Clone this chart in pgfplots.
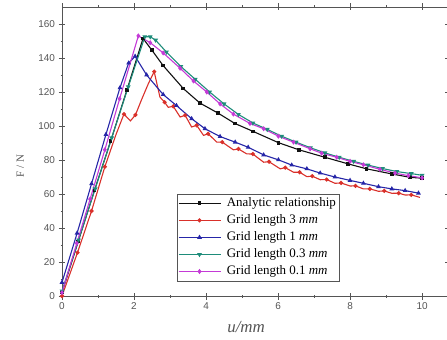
\documentclass[border=0pt]{standalone}
\usepackage{fontspec}
\setmainfont{Liberation Serif}
\setsansfont{Liberation Sans}
\usepackage{pgfplots}
\pgfplotsset{compat=1.18}
\definecolor{cblack}{HTML}{111111}
\definecolor{cred}{HTML}{D9302A}
\definecolor{cblue}{HTML}{2626A8}
\definecolor{cgreen}{HTML}{1E8C7A}
\definecolor{cmag}{HTML}{C43AD6}
\definecolor{axgray}{HTML}{555555}
\begin{document}
\begin{tikzpicture}
\begin{axis}[
  at={(0,0)}, anchor=south west,
  scale only axis, width=386bp, height=289bp,
  xmin=0, xmax=10.72, ymin=0, ymax=170,
  xtick={0,2,...,10}, ytick={0,20,...,160},
  minor xtick={1,3,...,9}, minor ytick={10,30,...,150},
  tick align=center, major tick length=7bp, minor tick length=3bp,
  axis line style={axgray, line width=0.8bp},
  every tick/.style={axgray, line width=0.7bp},
  /pgf/number format/assume math mode=true,
  ticklabel style={font=\sffamily\fontsize{10}{12}\selectfont, text=axgray},
  ylabel={F / N},
  ylabel style={at={(axis description cs:-0.108,0.45)}, anchor=center, font=\fontsize{11}{13}\selectfont, text=axgray},
  xlabel={\textit{u/mm}},
  xlabel style={at={(axis description cs:0.477,-0.107)}, anchor=center, font=\fontsize{17}{19}\selectfont, text=axgray},
  legend style={at={(axis cs:3.19,60.2)}, anchor=north west, draw=axgray, line width=0.6bp,
    font=\fontsize{13}{15.5}\selectfont, inner sep=0.8pt,
    nodes={inner sep=2.8pt, text depth=0.25em},
    /tikz/every odd column/.append style={column sep=3bp}},
  legend cell align=left,
  legend image code/.code={\draw[mark repeat=2,mark phase=2,#1] plot coordinates {(0bp,0bp) (21bp,0bp) (42bp,0bp)};},
  every axis plot/.append style={line width=1.1bp, mark size=1.3bp},
]
\addplot[cblack, mark=square*] coordinates {
(0,2) (0.45,32) (0.9,62) (1.35,91) (1.8,121) (2.25,151.5) (2.5,144.5) (2.81,135.5) (3.37,122) (3.83,113.5) (4.34,107.5) (4.8,101.5) (5.31,96.8) (6.01,90.2) (6.58,86) (7.3,81.6) (7.95,77.7) (8.46,74.8) (9.16,71.8) (9.67,69.8) (10,69.3)};
\addlegendentry{Analytic relationship}
\addplot[cred, mark=*, mark size=1.5bp, mark indices={1,2,3,4,6,8,11,13,15,17,19,21,23,25,27,29,31,33,35,37,39,41,43,45,47,49,51},
  legend image code/.code={\draw[cred, line width=1.1bp] (0bp,0bp) -- (42bp,0bp); \fill[cred] (21bp,0bp) circle (1.5bp);}] coordinates {
(0,0) (0.43,25.5) (0.82,50) (1.19,76) (1.5,95) (1.72,107) (1.9,103) (2.04,106.5) (2.2,115) (2.4,125) (2.56,132) (2.72,117) (2.85,114) (2.95,111) (3.09,111.6) (3.28,105.3) (3.42,106.3) (3.6,99.4) (3.74,100.4) (3.93,94.5) (4.06,95.4) (4.3,90.5) (4.45,90.5) (4.76,86) (4.9,86.5) (5.13,83.6) (5.3,83.5) (5.6,78.7) (5.75,79) (6.06,74.8) (6.2,75.5) (6.43,72.8) (6.6,72.8) (6.8,70.2) (6.95,70.5) (7.17,68.4) (7.35,68.5) (7.58,66.3) (7.75,66.5) (8,64.7) (8.15,64.8) (8.37,63) (8.55,63) (8.79,61.6) (8.95,61.8) (9.16,60.4) (9.35,60.5) (9.53,59.4) (9.7,59.5) (9.94,58)};
\addlegendentry{Grid length 3 \textit{mm}}
\addplot[cblue, mark=triangle*, mark size=1.7bp] coordinates {
(0,8) (0.42,37) (0.82,66) (1.22,95) (1.61,122.5) (1.85,137) (2.03,141) (2.35,130) (2.81,118.5) (3.18,112) (3.6,104.3) (3.97,98.4) (4.39,93.8) (4.81,90.5) (5.17,87.5) (5.6,83) (6.01,80.1) (6.38,77) (6.8,74.8) (7.17,72.3) (7.58,70) (8,68) (8.37,66.3) (8.79,64.3) (9.16,63) (9.53,62) (9.9,60.5)};
\addlegendentry{Grid length 1 \textit{mm}}
\addplot[cgreen, mark=triangle*, mark size=1.7bp, mark options={rotate=180}] coordinates {
(0,3) (0.46,33) (0.92,63) (1.38,93) (1.84,123) (2.3,152.5) (2.45,152.5) (2.6,150.5) (2.9,143.5) (3.3,135) (3.7,127.5) (4.1,120) (4.5,113) (4.9,106.8) (5.3,101.8) (5.7,98) (6.1,94) (6.5,90.5) (6.9,87.2) (7.3,84.2) (7.7,81.6) (8.1,79.2) (8.5,77) (8.9,75) (9.3,73.2) (9.7,72) (10,71)};
\addlegendentry{Grid length 0.3 \textit{mm}}
\addplot[cmag, mark=diamond*, mark size=1.7bp] coordinates {
(0,2) (0.41,31) (0.78,57) (1.19,86) (1.6,116) (2.12,153) (2.45,149) (2.81,143) (3.28,134) (3.65,126.5) (4.02,120) (4.39,113) (4.76,107) (5.22,101.5) (5.6,98.4) (6.01,94) (6.43,90.5) (6.89,86.6) (7.21,84) (7.63,81.6) (8.0,79.2) (8.37,77.2) (8.83,74.5) (9.25,72.3) (9.62,70.8) (10,69.5)};
\addlegendentry{Grid length 0.1 \textit{mm}}
\end{axis}
\pgfresetboundingbox
\path (-62bp,-44bp) rectangle (385bp,296bp);
\end{tikzpicture}
\end{document}
